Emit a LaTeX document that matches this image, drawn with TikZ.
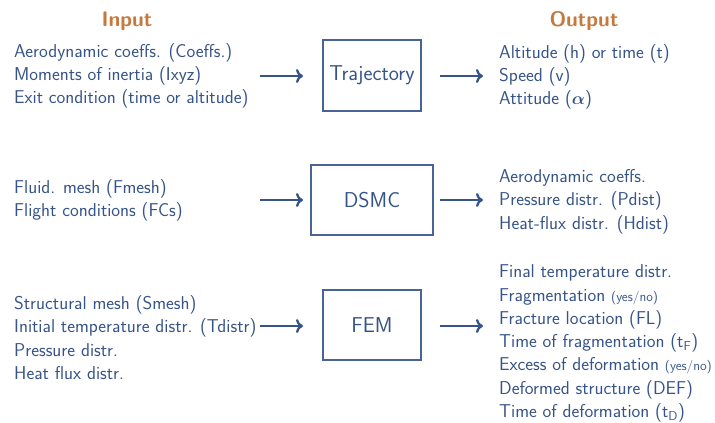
\documentclass[tikz,border=0pt]{standalone}
\usepackage{fontspec}
\usepackage{tikz}
\usetikzlibrary{arrows.meta}
\usetikzlibrary{positioning}

\definecolor{listblue}{RGB}{55,84,136}
\definecolor{boxblue}{RGB}{72,100,150}
\definecolor{titleorange}{RGB}{196,122,62}

\newcommand{\yesno}{{\fontsize{13.5}{13.5}\selectfont(yes/no)}}

\begin{document}
\begin{tikzpicture}[x=1pt,y=-1pt,
        listtext/.style={anchor=west, align=left, inner sep=0pt, text=listblue,
            font=\sffamily\fontsize{18.6}{23.3}\selectfont},
        title/.style={text=titleorange, font=\sffamily\bfseries\fontsize{21}{24}\selectfont},
        block/.style={draw=boxblue, line width=1.3pt, text=listblue, inner sep=0pt,
            font=\sffamily\fontsize{21.5}{24}\selectfont},
        flow/.style={draw=listblue, line width=2.3pt, -{To[length=7pt,width=14pt]}}]
            \useasboundingbox (0,0) rectangle (715,423);

            \node[title] (t_in)  at (127,21) {Input};
            \node[title] (t_out) at (584,21) {Output};

            % row 1
            \node[listtext] (in_1) at (14,76) {Aerodynamic coeffs. (Coeffs.)\\Moments of inertia (Ixyz)\\Exit condition (time or altitude)};
            \node[block, minimum width=98pt, minimum height=71pt] (b_1) at (372,75.5) {Trajectory};
            \node[listtext] (out_1) at (499,77) {Altitude (h) or time (t)\\Speed (v)\\Attitude ({\boldmath$\alpha$})};

            % row 2
            \node[listtext] (in_2) at (14,200.5) {Fluid. mesh (Fmesh)\\Flight conditions (FCs)};
            \node[block, minimum width=122pt, minimum height=70pt] (b_2) at (372,200) {DSMC};
            \node[listtext] (out_2) at (499,201.5) {Aerodynamic coeffs.\\Pressure distr. (Pdist)\\Heat-flux distr. (Hdist)};

            % row 3
            \node[listtext] (in_3) at (14,337.5) {Structural mesh (Smesh)\\Initial temperature distr. (Tdistr)\\Pressure distr.\\Heat flux distr.};
            \node[block, minimum width=98pt, minimum height=70pt] (b_3) at (372,325) {FEM};
            \node[listtext] (out_3) at (499,343.5) {Final temperature distr.\\Fragmentation \yesno\\Fracture location (FL)\\Time of fragmentation (t\textsubscript{F})\\Excess of deformation \yesno\\Deformed structure (DEF)\\Time of deformation (t\textsubscript{D})};

            \foreach \r/\y in {1/76, 2/200, 3/326} {
                \coordinate (l_\r s) at (260,\y);
                \coordinate (l_\r e) at (303,\y);
                \coordinate (r_\r s) at (440,\y);
                \coordinate (r_\r e) at (483,\y);
                \path[flow] (l_\r s) -- (l_\r e);
                \path[flow] (r_\r s) -- (r_\r e);
            }
        \end{tikzpicture}
\end{document}
